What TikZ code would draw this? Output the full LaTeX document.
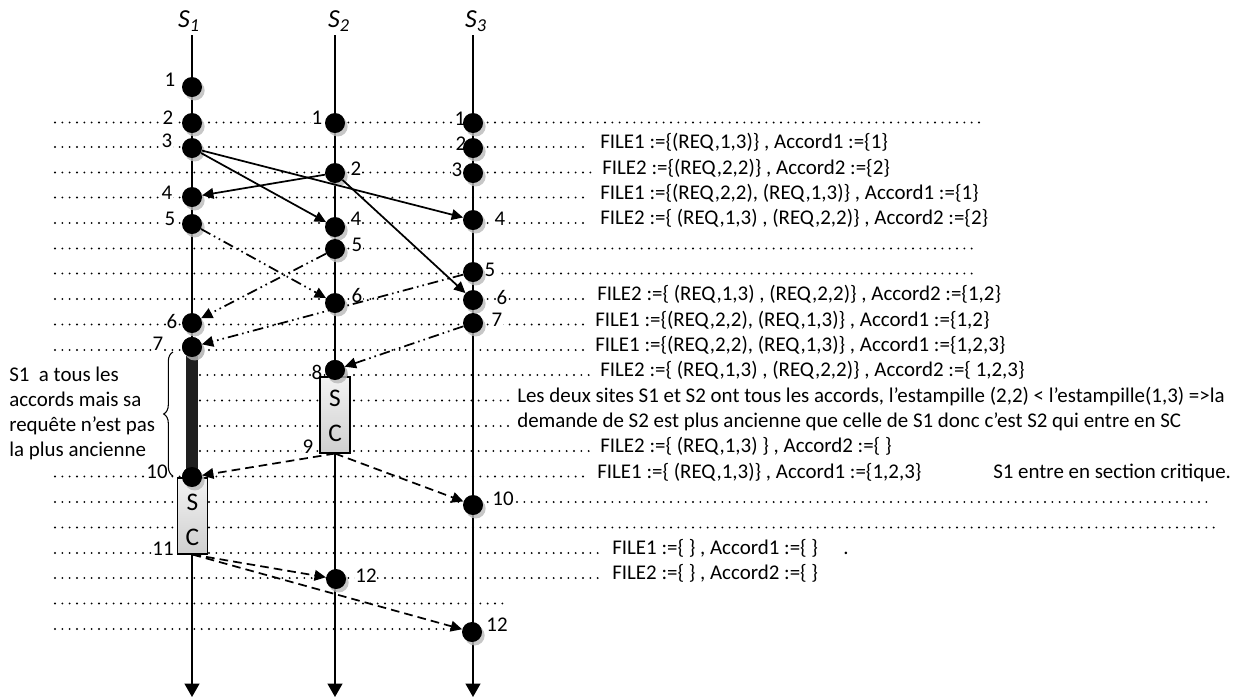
\documentclass[tikz,border=0pt]{standalone}
\usepackage{fontspec}
\setmainfont{Carlito}
\usetikzlibrary{arrows.meta,shadows,decorations.pathreplacing}
\begin{document}
\begin{tikzpicture}[x=0.75pt,y=-0.75pt,
  every node/.style={font=\fontsize{15.7}{18.8}\selectfont},
  dotrow/.style={line width=1.6pt, line cap=round, dash pattern=on 0pt off 5.5pt},
  ev/.style={circle, fill=black, inner sep=0pt, minimum size=15pt,
    drop shadow={shadow xshift=2pt, shadow yshift=-2.6pt, fill=gray!55, opacity=0.8}},
  lbl/.style={fill=white, inner sep=0.6pt},
  txt/.style={anchor=base west, inner sep=0pt},
  tline/.style={line width=1.4pt, -{Triangle[length=10pt,width=11pt]}},
  msg/.style={line width=1.3pt, -{Triangle[length=8.5pt,width=8pt]}},
  ddash/.style={dash pattern=on 8pt off 3pt on 1.2pt off 3pt on 1.2pt off 3pt},
  dsh/.style={dash pattern=on 6.5pt off 3.8pt},
  scbox/.style={draw=black, line width=0.8pt, top color=gray!10, bottom color=gray!38,
    minimum width=22.5pt, minimum height=57pt, inner sep=0pt},
  sctext/.style={inner sep=0pt, font=\fontsize{19}{22}\selectfont},
  title/.style={font=\fontsize{19.5}{22}\selectfont\itshape}
]
\useasboundingbox (0,0) rectangle (1234,697);

% dotted rows
\foreach \y/\a/\b in {122.5/55/985, 147/55/590, 172.5/55/592, 197.5/55/590, 223/55/590,
  248.5/55/978, 273.5/55/978, 299/55/588, 324.5/55/586, 350/55/586, 375/200/590,
  400.5/200/508, 426/200/508, 451/200/590, 476.5/55/590, 502/55/1210, 527.5/55/1215,
  553/55/603, 578/55/603, 603.5/55/505, 629/55/462}
  \draw[dotrow] (\a,\y) -- (\b,\y);

% titles
\node[title] (t1) at (189,21) {S\textsubscript{1}};
\node[title] (t2) at (339,21) {S\textsubscript{2}};
\node[title] (t3) at (476,21) {S\textsubscript{3}};

% event labels
\node[lbl] (l11) at (170,80) {1};
\node[lbl] (l12) at (168,118) {2};
\node[lbl] (l13) at (167,141) {3};
\node[lbl] (l14) at (167,193) {4};
\node[lbl] (l15) at (170,219) {5};
\node[lbl] (l16) at (172,321) {6};
\node[lbl] (l17) at (158,344) {7};
\node[lbl] (l110) at (157,472) {10};
\node[lbl] (l111) at (163,549) {11};
\node[lbl] (l21) at (317,118) {1};
\node[lbl] (l22) at (356,169) {2};
\node[lbl] (l24) at (356,219) {4};
\node[lbl] (l25) at (357,245) {5};
\node[lbl] (l26) at (357,296) {6};
\node[lbl] (l28) at (317,372) {8};
\node[lbl] (l29) at (308,447) {9};
\node[lbl] (l212) at (366,576) {12};
\node[lbl] (l31) at (460,119) {1};
\node[lbl] (l32) at (461,144) {2};
\node[lbl] (l33) at (457,170) {3};
\node[lbl] (l34) at (500,219) {4};
\node[lbl] (l35) at (490,270) {5};
\node[lbl] (l36) at (502,297) {6};
\node[lbl] (l37) at (497,320) {7};
\node[lbl] (l310) at (503,499) {10};
\node[lbl] (l312) at (497,625) {12};

% timelines
\coordinate (a1) at (192,35);  \coordinate (b1) at (192,697);
\coordinate (a2) at (335,35);  \coordinate (b2) at (335,697);
\coordinate (a3) at (473,35);  \coordinate (b3) at (473,697);
\draw[tline] (a1) -- (b1);
\draw[tline] (a2) -- (b2);
\draw[tline] (a3) -- (b3);

% events
\node[ev] (e11) at (192,87) {};
\node[ev] (e12) at (192,123) {};
\node[ev] (e13) at (192,148) {};
\node[ev] (e14) at (192,197) {};
\node[ev] (e15) at (192,224) {};
\node[ev] (e16) at (192,323) {};
\node[ev] (e17) at (192,347) {};
\node[ev] (e110) at (192,477) {};
\node[ev] (e21) at (335,123) {};
\node[ev] (e22) at (335,173) {};
\node[ev] (e24) at (335,227) {};
\node[ev] (e25) at (335,249) {};
\node[ev] (e26) at (335,303) {};
\node[ev] (e28) at (335,370) {};
\node[ev] (e212) at (336,579) {};
\node[ev] (e31) at (473,123) {};
\node[ev] (e32) at (473,148) {};
\node[ev] (e33) at (473,173) {};
\node[ev] (e34) at (473,220) {};
\node[ev] (e35) at (473,272) {};
\node[ev] (e36) at (473,300) {};
\node[ev] (e37) at (473,323) {};
\node[ev] (e310) at (473,505) {};
\node[ev] (e312) at (472,632) {};

% waiting bar on S1
\draw[line width=9.5pt, black!88] (e17.center) -- (e110.center);
\node[ev] at (e17) {};

% critical sections
\node[scbox] (sc2) at (335,415) {};
\node[sctext] (sc2s) at (335,398) {S};
\node[sctext] (sc2c) at (335,433) {C};
\node[scbox] (sc1) at (192.5,516) {};
\node[sctext] (sc1s) at (192.5,502) {S};
\node[sctext] (sc1c) at (192.5,537) {C};
\node[ev] at (e28) {};
\node[ev] at (e110) {};

% messages
\draw[msg] (e13) -- (e24);
\draw[msg] (e13) -- (e34);
\draw[msg] (e22) -- (e14);
\draw[msg] (e22) -- (e36);
\draw[msg, ddash] (e15) -- (e26);
\draw[msg, ddash] (e25) -- (e16);
\draw[msg, ddash] (e35) -- (e17);
\draw[msg, ddash] (e37) -- (e28);
\draw[msg, dsh] (sc2.south) -- (e110);
\draw[msg, dsh] (sc2.south) -- (e310);
\draw[msg, dsh] (sc1.south) -- (e212);
\draw[msg, dsh] (sc1.south) -- (e312);

% brace and note
\coordinate (br1) at (173,476);
\coordinate (br2) at (173,352);
\draw[decorate, decoration={brace, amplitude=7pt}, line width=0.8pt] (br1) -- (br2);
\node[txt] (n1) at (9,381) {S1~ a tous les};
\node[txt] (n2) at (9,406) {accords mais sa};
\node[txt] (n3) at (9,431) {requête n’est pas};
\node[txt] (n4) at (9,456) {la plus ancienne};

% state texts
\node[txt] (f1) at (600,148.5) {FILE1 :=\{(REQ,1,3)\} , Accord1 :=\{1\}};
\node[txt] (f2) at (602,174) {FILE2 :=\{(REQ,2,2)\} , Accord2 :=\{2\}};
\node[txt] (f3) at (600,199) {FILE1 :=\{(REQ,2,2), (REQ,1,3)\} , Accord1 :=\{1\}};
\node[txt] (f4) at (600,224.5) {FILE2 :=\{ (REQ,1,3) , (REQ,2,2)\} , Accord2 :=\{2\}};
\node[txt] (f5) at (597,300.5) {FILE2 :=\{ (REQ,1,3) , (REQ,2,2)\} , Accord2 :=\{1,2\}};
\node[txt] (f6) at (595,326) {FILE1 :=\{(REQ,2,2), (REQ,1,3)\} , Accord1 :=\{1,2\}};
\node[txt] (f7) at (595,351.5) {FILE1 :=\{(REQ,2,2), (REQ,1,3)\} , Accord1 :=\{1,2,3\}};
\node[txt] (f8) at (600,376.5) {FILE2 :=\{ (REQ,1,3) , (REQ,2,2)\} , Accord2 :=\{ 1,2,3\}};
\node[txt] (f9) at (517,402) {Les deux sites S1 et S2 ont tous les accords, l’estampille (2,2) < l’estampille(1,3) =>la};
\node[txt] (f10) at (517,427.5) {demande de S2 est plus ancienne que celle de S1 donc c’est S2 qui entre en SC};
\node[txt] (f11) at (600,452.5) {FILE2 :=\{ (REQ,1,3) \} , Accord2 :=\{ \}};
\node[txt] (f12) at (597,478) {FILE1 :=\{ (REQ,1,3)\} , Accord1 :=\{1,2,3\}};
\node[txt] (f13) at (993,478) {S1 entre en section critique.};
\node[txt] (f14) at (612,554.5) {FILE1 :=\{ \} , Accord1 :=\{ \}};
\node[txt] (f15) at (843,554.5) {.};
\node[txt] (f16) at (612,579.5) {FILE2 :=\{ \} , Accord2 :=\{ \}};
\end{tikzpicture}
\end{document}
